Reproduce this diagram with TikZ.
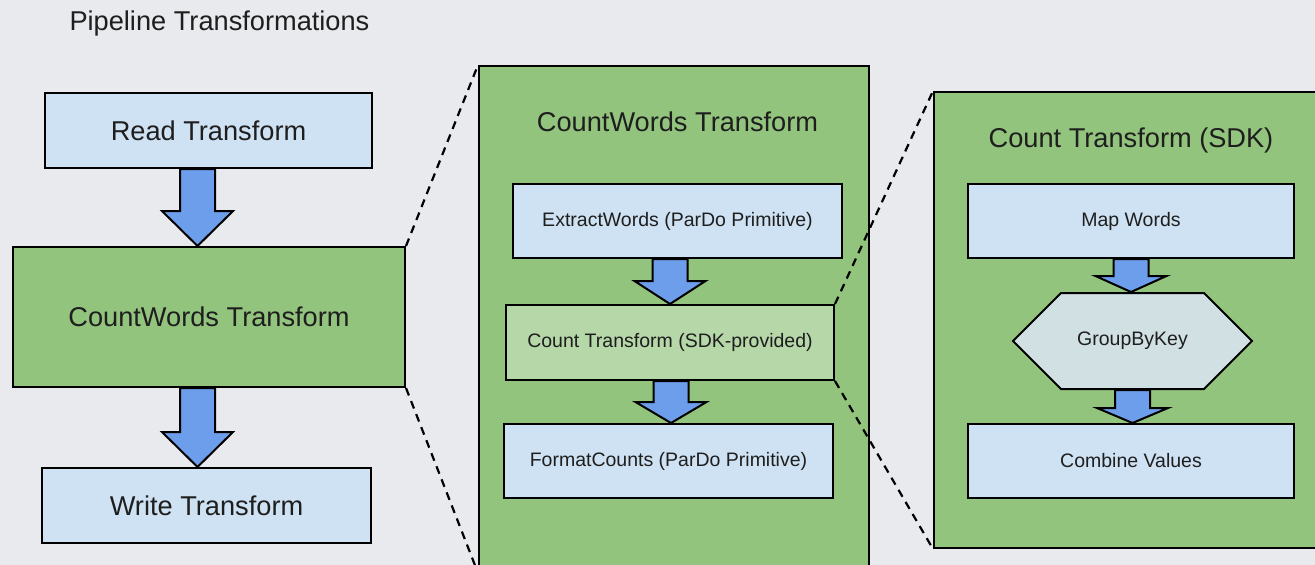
\documentclass[tikz,border=0pt]{standalone}
\usepackage{fontspec}
\setmainfont{Liberation Sans}
\usetikzlibrary{calc,shapes.symbols}

\definecolor{pagebg}{HTML}{E9EAEE}
\definecolor{stepblue}{HTML}{CFE2F3}
\definecolor{groupgreen}{HTML}{93C47D}
\definecolor{subgreen}{HTML}{B6D7A8}
\definecolor{flowblue}{HTML}{6D9EEB}
\definecolor{keygray}{HTML}{D0E0E3}
\definecolor{inkc}{HTML}{1E1E1E}

% vertical block arrow from the bottom of #1 to the top of #2,
% shifted by #3 horizontally from the centre of #1, head length #4
\newcommand\flowarrow[4]{%
  \path ($(#1.south)+(#3,0)$) coordinate (fa-s);
  \path (fa-s |- #2.north) coordinate (fa-t);
  \draw[flow] ($(fa-s)+(-17.5,0)$) -- ($(fa-t)+(-17.5,-#4)$)
    -- ($(fa-t)+(-35.5,-#4)$) -- (fa-t) -- ($(fa-t)+(35.5,-#4)$)
    -- ($(fa-t)+(17.5,-#4)$) -- ($(fa-s)+(17.5,0)$) -- cycle;
}

\begin{document}
\begin{tikzpicture}[x=1pt,y=-1pt,
  bigtext/.style={font=\fontsize{27.2}{32}\selectfont, text=inkc},
  smalltext/.style={font=\fontsize{19.5}{23}\selectfont, text=inkc},
  stepbox/.style={draw=black, line width=2pt, fill=#1, inner sep=0pt},
  flow/.style={draw=black, line width=2pt, fill=flowblue, line join=miter},
  zoomline/.style={draw=black, line width=2.2pt, dash pattern=on 8pt off 6pt}]

\useasboundingbox (0,0) rectangle (1315,565);
\clip (0,0) rectangle (1315,565);
\fill[pagebg] (0,0) rectangle (1315,565);

\node[bigtext, anchor=west] (title) at (66,23) {Pipeline Transformations};

% ---- top-level pipeline ----
\node[stepbox=stepblue, bigtext, minimum width=327, minimum height=75]
  (read) at (208.5,130.5) {Read Transform};
\node[stepbox=groupgreen, bigtext, minimum width=392, minimum height=140]
  (cw) at (209,317) {CountWords Transform};
\node[stepbox=stepblue, bigtext, minimum width=329, minimum height=75]
  (write) at (206.5,505.5) {Write Transform};
\flowarrow{read}{cw}{-11}{35}
\flowarrow{cw}{write}{-11.5}{35}

% ---- CountWords expanded ----
\node[stepbox=groupgreen, minimum width=390, minimum height=506]
  (mid) at (674,319) {};
\node[bigtext] (midtitle) at ($(mid.north)+(3.5,57)$) {CountWords Transform};
\node[stepbox=stepblue, smalltext, minimum width=329, minimum height=74]
  (extract) at (677.5,221) {ExtractWords (ParDo Primitive)};
\node[stepbox=subgreen, smalltext, minimum width=328, minimum height=75]
  (count) at (670,342.5) {Count Transform (SDK-provided)};
\node[stepbox=stepblue, smalltext, minimum width=329, minimum height=74]
  (format) at (668.5,461) {FormatCounts (ParDo Primitive)};
\flowarrow{extract}{count}{-7.5}{23}
\flowarrow{count}{format}{1}{21}

% ---- Count expanded ----
\node[stepbox=groupgreen, minimum width=396, minimum height=456]
  (sdk) at (1132,320) {};
\node[bigtext] (sdktitle) at ($(sdk.north)+(-1,49)$) {Count Transform (SDK)};
\node[stepbox=stepblue, smalltext, minimum width=326, minimum height=74]
  (map) at (1131,221) {Map Words};
\node[draw=black, line width=2pt, fill=keygray, smalltext, inner sep=0pt,
  signal, signal to=east and west, signal pointer angle=90,
  minimum width=239, minimum height=96]
  (gbk) at (1132.5,341) {GroupByKey};
\node[stepbox=stepblue, smalltext, minimum width=326, minimum height=74]
  (combine) at (1131,461) {Combine Values};
\flowarrow{map}{gbk}{0}{16}
\flowarrow{gbk}{combine}{0}{15}

% ---- zoom lines ----
\draw[zoomline] (cw.north east) -- (mid.north west);
\draw[zoomline] (cw.south east) -- (mid.south west);
\draw[zoomline] (count.north east) -- (sdk.north west);
\draw[zoomline] (count.south east) -- (sdk.south west);

\end{tikzpicture}
\end{document}
